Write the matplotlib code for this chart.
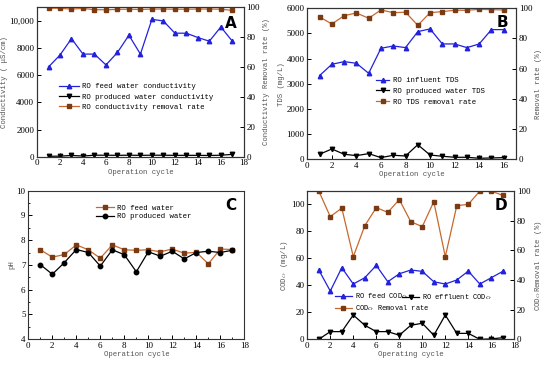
import matplotlib
matplotlib.use("Agg")
import matplotlib.pyplot as plt
from matplotlib.ticker import AutoMinorLocator, FixedLocator, FixedFormatter

plt.rcParams['mathtext.fontset'] = 'stix'

# ---------------- data ----------------
cyc17 = list(range(1, 18))
cyc16 = list(range(1, 17))

# Panel A
a_feed = [6610, 7490, 8700, 7560, 7560, 6760, 7680, 8950, 7560, 10120, 10000, 9100, 9100, 8780, 8510, 9560, 8510]
a_prod = [30, 40, 90, 50, 110, 110, 100, 110, 100, 110, 110, 100, 100, 100, 90, 110, 170]
a_rate = [99.5, 99.4, 98.9, 99.3, 98.5, 98.4, 98.7, 98.8, 98.6, 98.9, 98.9, 98.8, 98.8, 98.9, 98.9, 98.8, 98.0]
a_yticks = [0, 2000, 4000, 6000, 8000, 10000]
a_yticklabels = ['0', '2000', '4000', '6000', '8000', '10,000']

# Panel B
b_infl = [3325, 3775, 3880, 3815, 3417, 4410, 4503, 4437, 5073, 5180, 4583, 4583, 4437, 4583, 5152, 5152]
b_prod = [200, 410, 200, 145, 225, 66, 160, 130, 580, 170, 120, 80, 80, 40, 53, 66]
b_rate = [94.3, 89.6, 95.1, 96.9, 93.4, 98.9, 97.1, 97.4, 88.7, 97.1, 97.8, 98.7, 98.7, 99.3, 99.1, 98.9]

# Panel C
c_feed = [7.61, 7.31, 7.42, 7.81, 7.61, 7.27, 7.81, 7.61, 7.59, 7.61, 7.53, 7.64, 7.47, 7.51, 7.04, 7.64, 7.62]
c_prod = [7.01, 6.62, 7.09, 7.62, 7.50, 6.95, 7.61, 7.41, 6.72, 7.53, 7.35, 7.55, 7.24, 7.50, 7.55, 7.50, 7.59]

# Panel D
d_feed = [51.4, 35.8, 53.1, 41.0, 45.7, 54.8, 42.7, 48.6, 51.4, 50.4, 42.7, 41.0, 44.0, 50.6, 41.0, 45.7, 50.4]
d_effl = [0.0, 5.7, 5.7, 18.0, 10.4, 5.7, 5.7, 3.0, 10.4, 11.9, 3.0, 18.0, 4.4, 4.4, 0.0, 0.3, 1.2]
d_rate = [100.0, 82.7, 88.5, 55.7, 76.6, 88.8, 85.6, 94.2, 79.3, 76.0, 92.8, 55.7, 90.1, 91.0, 100.0, 100.0, 97.0]

# ---------------- style ----------------
BLUE = '#2222dd'
BROWN_L = '#c8682e'
BROWN_M = '#7a3b12'
BLACK = '#000000'
LBL = '#555555'
TICKFONT = 'Liberation Serif'
MONO = 'Liberation Mono'
FS = 6.5
LFS = 5.3

fig = plt.figure(figsize=(5.5, 3.65), dpi=100)


def style_axis(ax):
    ax.tick_params(direction='in', length=3, width=0.7, labelsize=FS, pad=2)
    ax.tick_params(which='minor', direction='in', length=1.5, width=0.6)
    for lab in ax.get_xticklabels() + ax.get_yticklabels():
        lab.set_fontfamily(TICKFONT)
    for s in ax.spines.values():
        s.set_linewidth(0.8)
        s.set_color('#333333')


def plot_line(ax, x, y, color, mcolor, marker, label):
    return ax.plot(x, y, color=color, lw=0.9, marker=marker, ms=3.2,
                   mfc=mcolor, mec=mcolor, label=label)[0]


def letter(ax, t, y):
    ax.text(0.965, y, t, transform=ax.transAxes, ha='right', va='center',
            fontsize=11, fontweight='bold', family='DejaVu Sans')


def leg(ax, handles, anchor, hl=2.6, size=LFS, **kw):
    return ax.legend(handles=handles, loc='center left', bbox_to_anchor=anchor,
                     frameon=False, prop={'family': MONO, 'size': size}, handlelength=hl,
                     borderpad=0, borderaxespad=0, handletextpad=0.5, **kw)


def labels(ax, xl, yl, ax2=None, yl2=None):
    ax.set_ylabel(yl, family=MONO, fontsize=LFS, color=LBL, labelpad=1)
    ax.set_xlabel(xl, family=MONO, fontsize=LFS, color=LBL, labelpad=1)
    if ax2 is not None:
        ax2.set_ylabel(yl2, family=MONO, fontsize=LFS, color=LBL, labelpad=2)


# ---------------- Panel A ----------------
axA = fig.add_axes([0.0673, 0.5707, 0.376, 0.409])
axA2 = axA.twinx()
h1 = plot_line(axA, cyc17, a_feed, BLUE, BLUE, '^', 'RO feed water conductivity')
h2 = plot_line(axA, cyc17, a_prod, BLACK, BLACK, 'v', 'RO produced water conductivity')
h3 = plot_line(axA2, cyc17, a_rate, BROWN_L, BROWN_M, 's', 'RO conductivity removal rate')
axA.set_xlim(0, 18)
axA.set_ylim(0, 11000)
axA2.set_ylim(0, 100)
axA.xaxis.set_major_locator(FixedLocator(list(range(0, 19, 2))))
axA.yaxis.set_major_locator(FixedLocator(a_yticks))
axA.yaxis.set_major_formatter(FixedFormatter(a_yticklabels))
axA2.yaxis.set_major_locator(FixedLocator([0, 20, 40, 60, 80, 100]))
labels(axA, 'Operation cycle', 'Conductivity ( μS/cm)', axA2, 'Conductivity Removal rate (%)')
style_axis(axA)
style_axis(axA2)
leg(axA, [h1, h2, h3], (0.106, 0.40), hl=2.7, labelspacing=0.45)
letter(axA, 'A', 0.895)

# ---------------- Panel B ----------------
axB = fig.add_axes([0.5587, 0.5636, 0.3795, 0.4137])
axB2 = axB.twinx()
g1 = plot_line(axB, cyc16, b_infl, BLUE, BLUE, '^', 'RO influent TDS')
g2 = plot_line(axB, cyc16, b_prod, BLACK, BLACK, 'v', 'RO produced water TDS')
g3 = plot_line(axB2, cyc16, b_rate, BROWN_L, BROWN_M, 's', 'RO TDS removal rate')
axB.set_xlim(0, 17)
axB.set_ylim(0, 6000)
axB2.set_ylim(0, 100)
axB.xaxis.set_major_locator(FixedLocator(list(range(0, 17, 2))))
axB.yaxis.set_major_locator(FixedLocator(list(range(0, 6001, 1000))))
axB2.yaxis.set_major_locator(FixedLocator([0, 20, 40, 60, 80, 100]))
labels(axB, 'Operation cycle', 'TDS (mg/L)', axB2, 'Removal rate (%)')
style_axis(axB)
style_axis(axB2)
leg(axB, [g1, g2, g3], (0.329, 0.45), hl=1.8, labelspacing=0.5)
letter(axB, 'B', 0.905)

# ---------------- Panel C ----------------
axC = fig.add_axes([0.0515, 0.0712, 0.3927, 0.4063])
k1 = plot_line(axC, cyc17, c_feed, BROWN_L, BROWN_M, 's', 'RO feed water')
k2 = plot_line(axC, cyc17, c_prod, BLACK, BLACK, 'o', 'RO produced water')
axC.set_xlim(0, 18)
axC.set_ylim(4, 10)
axC.xaxis.set_major_locator(FixedLocator(list(range(0, 19, 2))))
axC.yaxis.set_major_locator(FixedLocator(list(range(4, 11))))
axC.yaxis.set_minor_locator(AutoMinorLocator(2))
axC.xaxis.set_minor_locator(AutoMinorLocator(2))
labels(axC, 'Operation cycle', 'pH')
style_axis(axC)
leg(axC, [k1, k2], (0.313, 0.853), hl=2.4, labelspacing=0.2)
letter(axC, 'C', 0.9)

# ---------------- Panel D ----------------
axD = fig.add_axes([0.5587, 0.0704, 0.3764, 0.4063])
axD2 = axD.twinx()
m1 = plot_line(axD, cyc17, d_feed, BLUE, BLUE, '^', 'RO feed COD$_{Cr}$')
m2 = plot_line(axD, cyc17, d_effl, BLACK, BLACK, 'v', 'RO effluent COD$_{Cr}$')
m3 = plot_line(axD2, cyc17, d_rate, BROWN_L, BROWN_M, 's', 'COD$_{Cr}$ Removal rate')
axD.set_xlim(0, 18)
axD.set_ylim(0, 110)
axD2.set_ylim(0, 100)
axD.xaxis.set_major_locator(FixedLocator(list(range(0, 19, 2))))
axD.yaxis.set_major_locator(FixedLocator(list(range(0, 101, 20))))
axD2.yaxis.set_major_locator(FixedLocator([0, 20, 40, 60, 80, 100]))
labels(axD, 'Operating cycle', 'COD$_{Cr}$ (mg/L)', axD2, 'COD$_{Cr}$Removal rate (%)')
style_axis(axD)
style_axis(axD2)
legD1 = leg(axD2, [m1, m3], (0.134, 0.25), hl=2.4, size=5.0, labelspacing=0.25)
axD2.add_artist(legD1)
leg(axD2, [m2], (0.459, 0.283), hl=2.4, size=5.0)
letter(axD, 'D', 0.9)

fig.savefig('out.png', dpi=100)
